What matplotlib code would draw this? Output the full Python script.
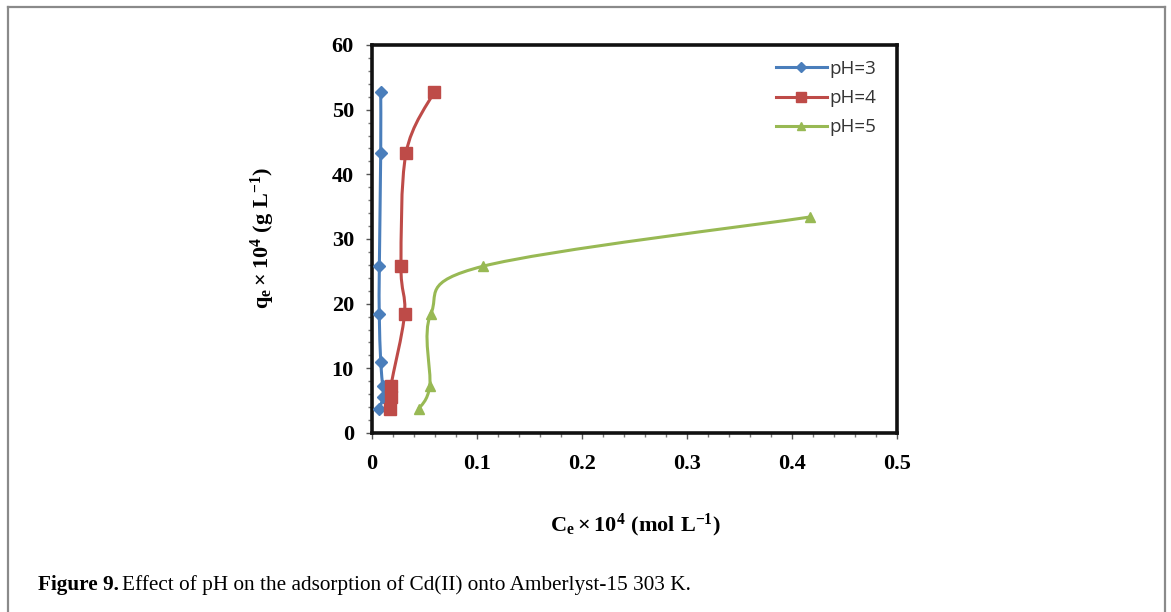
import matplotlib
matplotlib.use("Agg")
import matplotlib.pyplot as plt
import numpy as np
from matplotlib.path import Path
from matplotlib.patches import PathPatch
from matplotlib.lines import Line2D
from matplotlib.ticker import MultipleLocator

# ---- data ----
qe = [3.7, 5.6, 7.3, 11.0, 18.4, 25.8, 43.3, 52.7]
ce_ph3 = [0.0067, 0.0108, 0.0102, 0.0083, 0.0069, 0.0070, 0.0083, 0.0083]

qe_ph4 = [3.7, 5.6, 7.3, 18.4, 25.8, 43.3, 52.7]
ce_ph4 = [0.017, 0.018, 0.018, 0.031, 0.0276, 0.0324, 0.059]

qe_ph5 = [3.7, 7.3, 18.4, 25.8, 33.4]
ce_ph5 = [0.0445, 0.055, 0.056, 0.106, 0.417]

labels = ["pH=3", "pH=4", "pH=5"]
colors = ["#4A7EBB", "#BE4B48", "#98B954"]
markers = ["D", "s", "^"]
msizes = [6.3, 8.3, 7.8]

x_ticks = [0, 0.1, 0.2, 0.3, 0.4, 0.5]
x_ticklabels = ["0", "0.1", "0.2", "0.3", "0.4", "0.5"]
y_ticks = [0, 10, 20, 30, 40, 50, 60]

plt.rcParams['mathtext.fontset'] = 'custom'
plt.rcParams['mathtext.rm'] = 'Liberation Serif:bold'
plt.rcParams['mathtext.it'] = 'Liberation Serif:bold'
plt.rcParams['mathtext.bf'] = 'Liberation Serif:bold'

W, H = 1171, 612
fig = plt.figure(figsize=(W / 100, H / 100), dpi=100)
ax = fig.add_axes([372 / W, 1 - 433 / H, 525 / W, 388 / H])
ax.set_xlim(0, 0.5)
ax.set_ylim(0, 60)

AXW, AXH = 525.0, 388.0


def smooth_path(xs, ys):
    # Excel-like smoothed line: cubic Bezier (Catmull-Rom) in screen proportions
    p = np.column_stack([np.asarray(xs) / 0.5 * AXW, np.asarray(ys) / 60.0 * AXH])
    n = len(p)
    verts = [p[0]]
    codes = [Path.MOVETO]
    for i in range(n - 1):
        p0 = p[i - 1] if i > 0 else p[i]
        p1 = p[i]
        p2 = p[i + 1]
        p3 = p[i + 2] if i + 2 < n else p[i + 1]
        c1 = p1 + (p2 - p0) / 6.0
        c2 = p2 - (p3 - p1) / 6.0
        verts += [c1, c2, p2]
        codes += [Path.CURVE4] * 3
    v = np.array(verts)
    v[:, 0] = v[:, 0] / AXW * 0.5
    v[:, 1] = v[:, 1] / AXH * 60.0
    return Path(v, codes)


series = [(ce_ph3, qe), (ce_ph4, qe_ph4), (ce_ph5, qe_ph5)]
handles = []
for (xs, ys), lab, c, m, ms in zip(series, labels, colors, markers, msizes):
    ax.add_patch(PathPatch(smooth_path(xs, ys), facecolor='none', edgecolor=c,
                           lw=2.2, zorder=2, clip_on=False))
    ax.plot(xs, ys, linestyle='none', marker=m, color=c, markersize=ms,
            markeredgecolor=c, zorder=3, clip_on=False)
    handles.append(Line2D([], [], color=c, lw=2.2, marker=m, markersize=ms - 1.5,
                          label=lab))

leg = ax.legend(handles=handles, loc='upper right', frameon=False,
                bbox_to_anchor=(0.992, 1.005), handlelength=2.7, handletextpad=0.12,
                labelspacing=0.6, prop={'family': 'Open Sans', 'size': 13.5})
for t in leg.get_texts():
    t.set_color('#333333')

ax.set_xticks(x_ticks)
ax.set_xticklabels(x_ticklabels)
ax.set_yticks(y_ticks)
ax.xaxis.set_minor_locator(MultipleLocator(0.02))
ax.yaxis.set_minor_locator(MultipleLocator(2))
for lab in ax.get_xticklabels() + ax.get_yticklabels():
    lab.set_fontfamily('Liberation Serif')
    lab.set_fontweight('bold')
    lab.set_fontsize(16)
ax.tick_params(axis='both', which='major', direction='out', length=4, width=1,
               color='#555555')
ax.tick_params(axis='both', which='minor', direction='out', length=3, width=1,
               color='#777777')
ax.tick_params(axis='x', pad=11)
ax.tick_params(axis='y', pad=9)
for s in ax.spines.values():
    s.set_linewidth(2.6)
    s.set_color('#111111')

fig.text(635 / W, 1 - 525 / H, r'$\mathregular{C_e \times 10^4\ (mol\ L^{-1})}$',
         ha='center', va='center', fontsize=16, fontfamily='Liberation Serif',
         fontweight='bold')
fig.text(263 / W, 1 - 238 / H, r'$\mathregular{q_e \times 10^4\ (g\ L^{-1})}$',
         ha='center', va='center', fontsize=16, rotation=90,
         fontfamily='Liberation Serif', fontweight='bold')

# caption
t1 = fig.text(38 / W, 1 - 585 / H, 'Figure 9.', ha='left', va='center',
              fontsize=15.3, fontfamily='Liberation Serif', fontweight='bold')
fig.canvas.draw()
bb = t1.get_window_extent()
fig.text((bb.x1 + 3) / W, 1 - 585 / H,
         'Effect of pH on the adsorption of Cd(II) onto Amberlyst-15 303 K.',
         ha='left', va='center', fontsize=15.3, fontfamily='Liberation Serif')

# outer frame (open at the bottom)
frame_c = '#8a8a8a'
fig.add_artist(Line2D([8 / W, 8 / W], [0, 1 - 7 / H], color=frame_c, lw=1.6,
                      transform=fig.transFigure))
fig.add_artist(Line2D([8 / W, 1165 / W], [1 - 7 / H, 1 - 7 / H], color=frame_c,
                      lw=1.6, transform=fig.transFigure))
fig.add_artist(Line2D([1165 / W, 1165 / W], [0, 1 - 7 / H], color=frame_c,
                      lw=1.6, transform=fig.transFigure))

fig.savefig('out.png', dpi=100)
